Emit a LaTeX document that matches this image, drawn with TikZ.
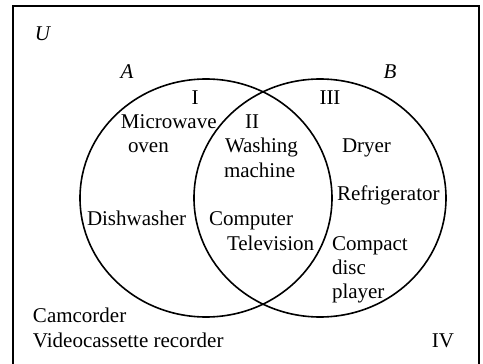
\documentclass[tikz,border=0pt]{standalone}
\usepackage{fontspec}
\setmainfont{Liberation Serif}
\begin{document}
\begin{tikzpicture}[x=1pt,y=-1pt,
  lbl/.style={inner sep=0pt,outer sep=0pt,font=\fontsize{21}{24.5}\selectfont,anchor=base west},
  clbl/.style={inner sep=0pt,outer sep=0pt,font=\fontsize{21}{24.5}\selectfont,anchor=base},
  setline/.style={line width=1.6pt},
  frameline/.style={line width=2pt}]
\useasboundingbox (0,0) rectangle (483,364);
% frame
\draw[frameline] (12.5,370) -- (12.5,5.5) -- (478.5,5.5) -- (478.5,370);
% sets
\draw[setline] (206,198) ellipse [x radius=126, y radius=119];
\draw[setline] (320,198) ellipse [x radius=126, y radius=119];
% labels
\node[clbl] (U) at (43,40) {\textit{U}};
\node[clbl] (A) at (127,78) {\textit{A}};
\node[clbl] (B) at (390,78) {\textit{B}};
\node[clbl] (I) at (195,104) {I};
\node[clbl] (III) at (330,104) {III};
\node[clbl] (II) at (252,128) {II};
\node[lbl] (micro) at (121,128) {Microwave};
\node[lbl] (oven) at (128,152) {oven};
\node[lbl] (wash) at (225,152) {Washing};
\node[lbl] (mach) at (224,177) {machine};
\node[lbl] (dryer) at (342,152) {Dryer};
\node[lbl] (fridge) at (337,200) {Refrigerator};
\node[lbl] (dish) at (87,225) {Dishwasher};
\node[lbl] (comp) at (209,225) {Computer};
\node[lbl] (tv) at (227,250) {Television};
\node[lbl] (cd1) at (332,250) {Compact};
\node[lbl] (cd2) at (332,274) {disc};
\node[lbl] (cd3) at (332,298) {player};
\node[lbl] (cam) at (33,322) {Camcorder};
\node[lbl] (vcr) at (33,347) {Videocassette recorder};
\node[clbl] (IV) at (443,347) {IV};
\end{tikzpicture}
\end{document}
